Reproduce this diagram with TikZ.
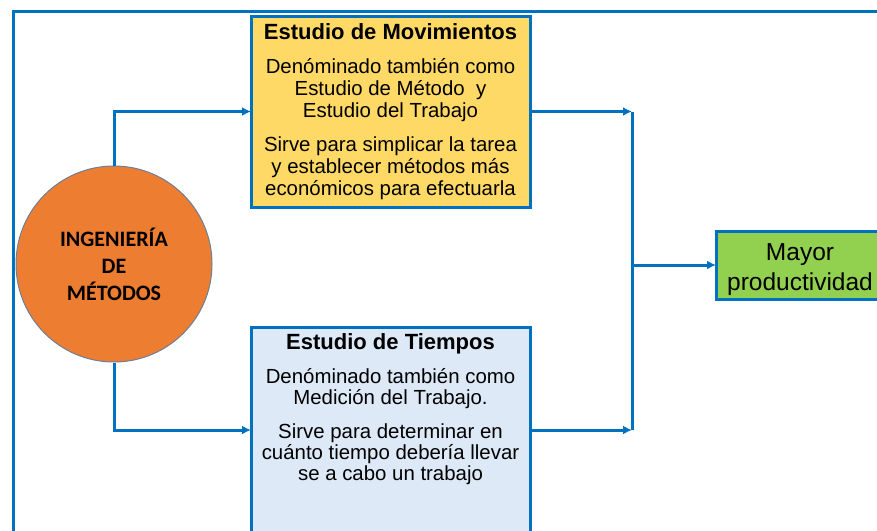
\documentclass[tikz,border=0pt]{standalone}
\usepackage{fontspec}
\setmainfont{Liberation Sans}
\newfontfamily\circfont{Carlito}
\usetikzlibrary{arrows.meta}
\definecolor{frameblue}{RGB}{0, 112, 192}
\definecolor{boxgold}{RGB}{255, 217, 102}
\definecolor{boxpale}{RGB}{221, 233, 246}
\definecolor{boxgreen}{RGB}{146, 208, 80}
\definecolor{circorange}{RGB}{237, 125, 49}
\definecolor{circedge}{RGB}{110, 125, 150}

\tikzset{
  card/.style={draw=frameblue,line width=3pt,inner sep=0pt,outer sep=0pt,anchor=north west},
  link/.style={frameblue,line width=3pt,-{Latex[length=9pt,width=9pt]}},
}

\begin{document}
\begin{tikzpicture}[x=1pt,y=-1pt]
        \useasboundingbox (0,0) rectangle (877,530);
        \clip (0,0) rectangle (877,530);

        % Outer frame
        \draw[frameblue,line width=3pt] (13,11) rectangle (900,560);

        % Central circle
        \node[circle,fill=circorange,draw=circedge,line width=1pt,minimum size=196pt,inner sep=0pt,
              align=center,font=\circfont\bfseries\fontsize{22}{27}\selectfont] (ingmet) at (114,264)
              {INGENIERÍA\\DE\\MÉTODOS};

        % Study boxes
        \node[card,fill=boxgold,minimum width=279pt,minimum height=191pt] (moves) at (251,16) {
            \begin{minipage}[t][191pt][t]{276pt}
                \centering
                \vspace*{8pt}
                {\bfseries\fontsize{22}{24}\selectfont Estudio de Movimientos\par}
                \fontsize{20.4}{22}\selectfont
                \vspace{12pt}
                Denóminado también como\\
                Estudio de Método\ \ y\\
                Estudio del Trabajo\par
                \vspace{12pt}
                Sirve para simplicar la tarea\\
                y establecer métodos más\\
                económicos para efectuarla\par
            \end{minipage}
        };
        \node[card,fill=boxpale,minimum width=279pt,minimum height=206pt] (times) at (251,327) {
            \begin{minipage}[t][206pt][t]{276pt}
                \centering
                \vspace*{7pt}
                {\bfseries\fontsize{22}{24}\selectfont Estudio de Tiempos\par}
                \fontsize{20.4}{21}\selectfont
                \vspace{12.5pt}
                Denóminado también como\\
                Medición del Trabajo.\par
                \vspace{13pt}
                Sirve para determinar en\\
                cuánto tiempo debería llevar\\
                se a cabo un trabajo\par
            \end{minipage}
        };

        % Result
        \node[card,fill=boxgreen,minimum width=168pt,minimum height=68pt,align=center,
              font=\fontsize{24.5}{30}\selectfont] (result) at (716,231) {\rule{0pt}{26pt}Mayor\\productividad};

        % Junction points
        \coordinate (merge) at (632,265);
        \coordinate (jtop) at (moves.east -| merge);
        \coordinate (jbot) at (times.east -| merge);
        \coordinate (jout) at (merge -| result.west);

        % Connectors
        \draw[link] (ingmet.north) |- (moves.west);
        \draw[link] (ingmet.south) |- (times.west);
        \draw[link] (moves.east) -- (jtop);
        \draw[link] (times.east) -- (jbot);
        \draw[frameblue,line width=3pt] (jtop) -- (jbot);
        \draw[link] (merge) -- (jout);
    \end{tikzpicture}
\end{document}
